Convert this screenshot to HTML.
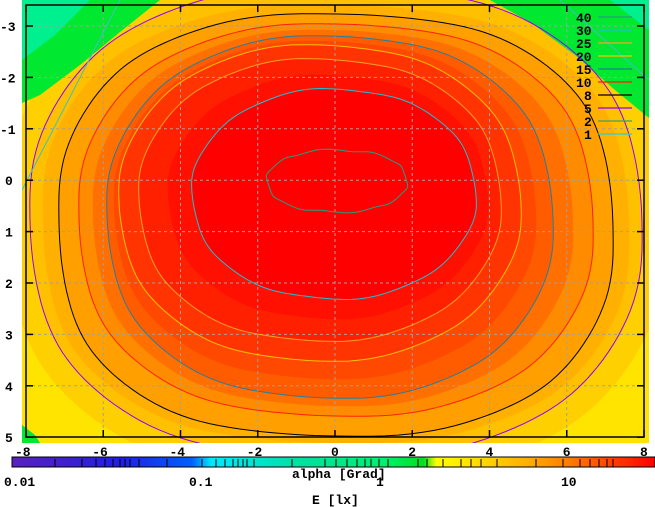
<!DOCTYPE html>
<html><head><meta charset="utf-8"><style>
body{margin:0;background:#fff;}
svg{display:block;}
text{font-family:"Liberation Mono",monospace;font-weight:bold;font-size:13px;fill:#000;}
</style></head><body>
<svg id="s" width="655" height="507" xmlns="http://www.w3.org/2000/svg">
<defs>
<linearGradient id="cb" x1="0" x2="1" y1="0" y2="0">
<stop offset="0" stop-color="#5a20c0"/>
<stop offset="0.17" stop-color="#2020e0"/>
<stop offset="0.28" stop-color="#0060ff"/>
<stop offset="0.31" stop-color="#00e8ff"/>
<stop offset="0.45" stop-color="#00e0a0"/>
<stop offset="0.58" stop-color="#00f070"/>
<stop offset="0.64" stop-color="#00e020"/>
<stop offset="0.66" stop-color="#ffff00"/>
<stop offset="0.8" stop-color="#ffb000"/>
<stop offset="0.9" stop-color="#ff6000"/>
<stop offset="1" stop-color="#ff0000"/>
</linearGradient>
<clipPath id="pc"><rect x="22" y="0" width="627" height="443"/></clipPath>
</defs>
<g clip-path="url(#pc)" id="heat">
<rect x="22" y="0" width="627" height="443" fill="#ffe400"/>
</g>
<g id="grid" stroke="#a0a0a0" stroke-dasharray="3,3" stroke-width="1"></g>
<g id="cont" fill="none" clip-path="url(#pc)"></g>
<rect x="26" y="5" width="618" height="432" fill="none" stroke="#000" stroke-width="1.5"/>
<g id="ticks" stroke="#000" stroke-width="1.5"></g>
<g id="lab"></g>
<rect x="12" y="457" width="643" height="10" fill="url(#cb)" stroke="#000"/>
<g id="cbt" stroke="#000"></g>
<text x="4" y="486">0.01</text>
<text x="189" y="486">0.1</text>
<text x="376" y="486">1</text>
<text x="561" y="486">10</text>
<text x="292" y="478">alpha [Grad]</text>
<text x="312" y="504">E [lx]</text>
</svg>
<script>
const NS="http://www.w3.org/2000/svg";
function el(p,t,a){const e=document.createElementNS(NS,t);for(const k in a)e.setAttribute(k,a[k]);p.appendChild(e);return e;}
function sup(cx,cy,rx,ry,n){let d="";for(let i=0;i<=160;i++){const t=i/160*2*Math.PI;const c=Math.cos(t),s=Math.sin(t);
const x=cx+rx*Math.sign(c)*Math.pow(Math.abs(c),2/n)+Math.sin(t*7)*1.5;const y=cy+ry*Math.sign(s)*Math.pow(Math.abs(s),2/n)+Math.cos(t*9)*1.2;d+=(i?"L":"M")+x.toFixed(1)+","+y.toFixed(1);}return d+"Z";}
const heat=document.getElementById("heat");
const C=[
[336,222,330,258,2.4,"#ffd000"],
[336,222,306,236,2.4,"#ffc000"],
[336,224,293,219,2.5,"#ffb000"],
[336,225,277,211,2.5,"#ffa000"],
[336,220,257,196,2.4,"#ff8c00"],
[333,218,240,188,2.35,"#ff7000"],
[330,217,223,181,2.3,"#ff5c00"],
[325,210,211,169,2.25,"#ff4800"],
[320,203,201,158,2.2,"#ff3400"],
[320,200,181,141,2.2,"#ff2000"],
[328,197,160,122,2.15,"#ff1000"],
[334,194,142,105,2.1,"#ff0000"]];
C.forEach(c=>el(heat,"path",{d:sup(c[0],c[1],c[2],c[3],c[4]),fill:c[5]}));
el(heat,"polygon",{points:"22,0 22,103 40,95 80,65 120,32 160,0",fill:"#00e830"});
el(heat,"polygon",{points:"22,0 22,60 55,35 90,0",fill:"#00f090"});
el(heat,"polygon",{points:"490,0 530,22 575,55 615,90 649,118 649,0",fill:"#00e830"});
el(heat,"polygon",{points:"610,0 649,30 649,0",fill:"#00f090"});
el(heat,"polygon",{points:"22,425 35,435 40,443 22,443",fill:"#00e830"});
const cont=document.getElementById("cont");
const L=[
[336,222,306,236,2.4,"#9000ff"],
[336,225,277,211,2.5,"#000000"],
[336,220,257,196,2.4,"#ff2000"],
[330,217,223,181,2.3,"#2080a0"],
[320,203,201,158,2.2,"#ffc000"],
[320,200,181,141,2.2,"#ffa020"],
[334,194,142,105,2.1,"#20c0d0"],
[337,181,70,31,2.2,"#20a080"]];
L.forEach(c=>el(cont,"path",{d:sup(c[0],c[1],c[2],c[3],c[4]),stroke:c[5],"stroke-width":1}));
el(cont,"line",{x1:22,y1:190,x2:120,y2:0,stroke:"#40c0c0"});
el(cont,"line",{x1:560,y1:0,x2:649,y2:80,stroke:"#40c0c0"});
const grid=document.getElementById("grid"),ticks=document.getElementById("ticks"),lab=document.getElementById("lab");
const xs=[-8,-6,-4,-2,0,2,4,6,8];
xs.forEach((v,i)=>{const x=26+i*77.25;if(i>0&&i<8)el(grid,"line",{x1:x,y1:5,x2:x,y2:437});
el(ticks,"line",{x1:x,y1:437,x2:x,y2:430});el(ticks,"line",{x1:x,y1:5,x2:x,y2:12});
const t=el(lab,"text",{x:x-(v<0?11:4),y:456});t.textContent=v;});
for(let v=-3;v<=5;v++){const y=26+(v+3)*51.4;if(v<5)el(grid,"line",{x1:26,y1:y,x2:644,y2:y});
el(ticks,"line",{x1:26,y1:y,x2:33,y2:y});el(ticks,"line",{x1:644,y1:y,x2:637,y2:y});
const t=el(lab,"text",{x:v<0?0:5,y:y+5});t.textContent=v;}
const leg=[["40","#20a080"],["30","#20c0d0"],["25","#ffa020"],["20","#ffc000"],["15","#2080a0"],["10","#ff2000"],["8","#000"],["5","#9000ff"],["2","#40a060"],["1","#20d0e0"]];
leg.forEach((l,i)=>{const y=17+i*13;const t=el(lab,"text",{x:l[0].length>1?576:584,y:y+5});t.textContent=l[0];
el(lab,"line",{x1:598,y1:y,x2:632,y2:y,stroke:l[1],"stroke-width":1.2});});
const cbt=document.getElementById("cbt");
[55,82,96,105,113,120,125,130,139,167,202,216,225,233,238,243,247,254,292,325,336,347,357,365,371,379,388,418,427,443,461,471,481,497,536,563,580,590,599,607,613].forEach(x=>el(cbt,"line",{x1:x,y1:459,x2:x,y2:467}));
</script>
</body></html>
